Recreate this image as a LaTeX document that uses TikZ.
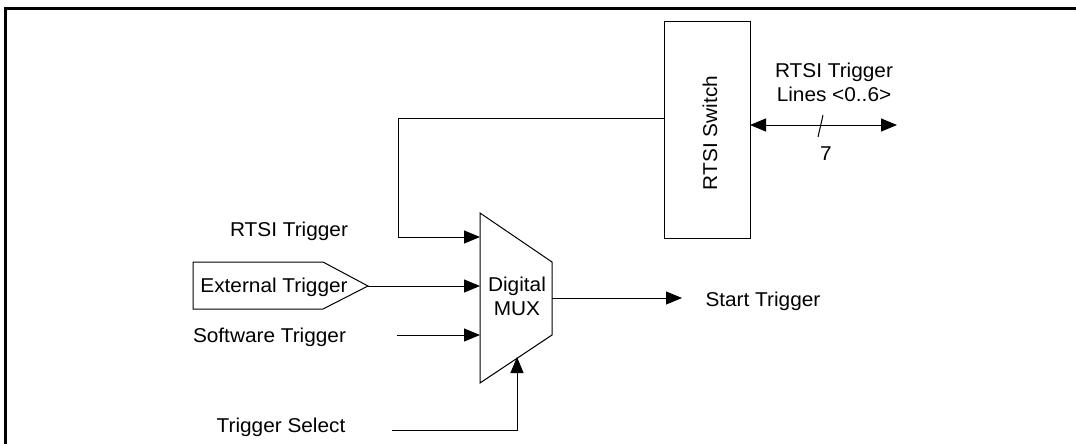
\documentclass[tikz,border=0pt]{standalone}
\usepackage{fontspec}
\setmainfont[FakeStretch=1.04]{Liberation Sans}
\usetikzlibrary{arrows.meta}
\begin{document}
\begin{tikzpicture}[x=1pt,y=-1pt,
  font=\fontsize{20}{24.5}\selectfont,
  line width=1pt,
  tip/.tip={Triangle[length=16pt,width=13pt]},
  arr/.style={-tip},
  lbl/.style={inner sep=0pt,anchor=base}]
\useasboundingbox (0,0) rectangle (1076,444);
% frame
\draw[line width=3pt] (5.5,444) -- (5.5,8.5) -- (1076,8.5);

% RTSI switch
\node[draw, minimum width=86pt, minimum height=216pt, inner sep=0pt] (sw) at (707,130) {};
\node[rotate=90, inner sep=0pt] (swt) at (710,133) {RTSI Switch};

% RTSI trigger lines
\coordinate (swr) at (750,125);
\coordinate (rl) at (897,125);
\draw[tip-tip] (swr) -- (rl);
\coordinate (s1) at (818,137);
\coordinate (s2) at (823,115);
\draw (s1) -- (s2);
\node[lbl, align=center] (rtl) at (834,101.5) {RTSI Trigger\\Lines <0..6>};
\node[lbl] (seven) at (826,160) {7};

% MUX
\coordinate (m1) at (480,213);
\coordinate (m2) at (552,262);
\coordinate (m3) at (552,335);
\coordinate (m4) at (480,383);
\draw (m1) -- (m2) -- (m3) -- (m4) -- cycle;
\node[lbl, align=center] (mux) at (517,315.5) {Digital\\MUX};

% RTSI trigger input
\coordinate (swl) at (664,118);
\coordinate (c1) at (398,118);
\coordinate (c2) at (398,237);
\coordinate (in1) at (480,237);
\draw[arr] (swl) -- (c1) -- (c2) -- (in1);
\node[lbl] (rt) at (289,236.5) {RTSI Trigger};

% External trigger
\coordinate (e1) at (193,262);
\coordinate (e2) at (323,262);
\coordinate (etip) at (368,286);
\coordinate (e3) at (323,309);
\coordinate (e4) at (193,309);
\draw (e1) -- (e2) -- (etip) -- (e3) -- (e4) -- cycle;
\node[lbl] (ext) at (274,292.5) {External Trigger};
\coordinate (in2) at (480,286);
\draw[arr] (etip) -- (in2);

% Software trigger
\coordinate (sws) at (397,335);
\coordinate (in3) at (480,335);
\draw[arr] (sws) -- (in3);
\node[lbl] (swtr) at (269.5,342) {Software Trigger};

% Trigger select
\coordinate (ts0) at (392,430);
\coordinate (ts1) at (517,430);
\coordinate (ts2) at (517,357);
\draw[arr] (ts0) -- (ts1) -- (ts2);
\node[lbl] (tsl) at (281,432) {Trigger Select};

% Output
\coordinate (out0) at (552,298);
\coordinate (out1) at (682,298);
\draw[arr] (out0) -- (out1);
\node[lbl, anchor=base west] (st) at (705,306.5) {Start Trigger};
\end{tikzpicture}
\end{document}
